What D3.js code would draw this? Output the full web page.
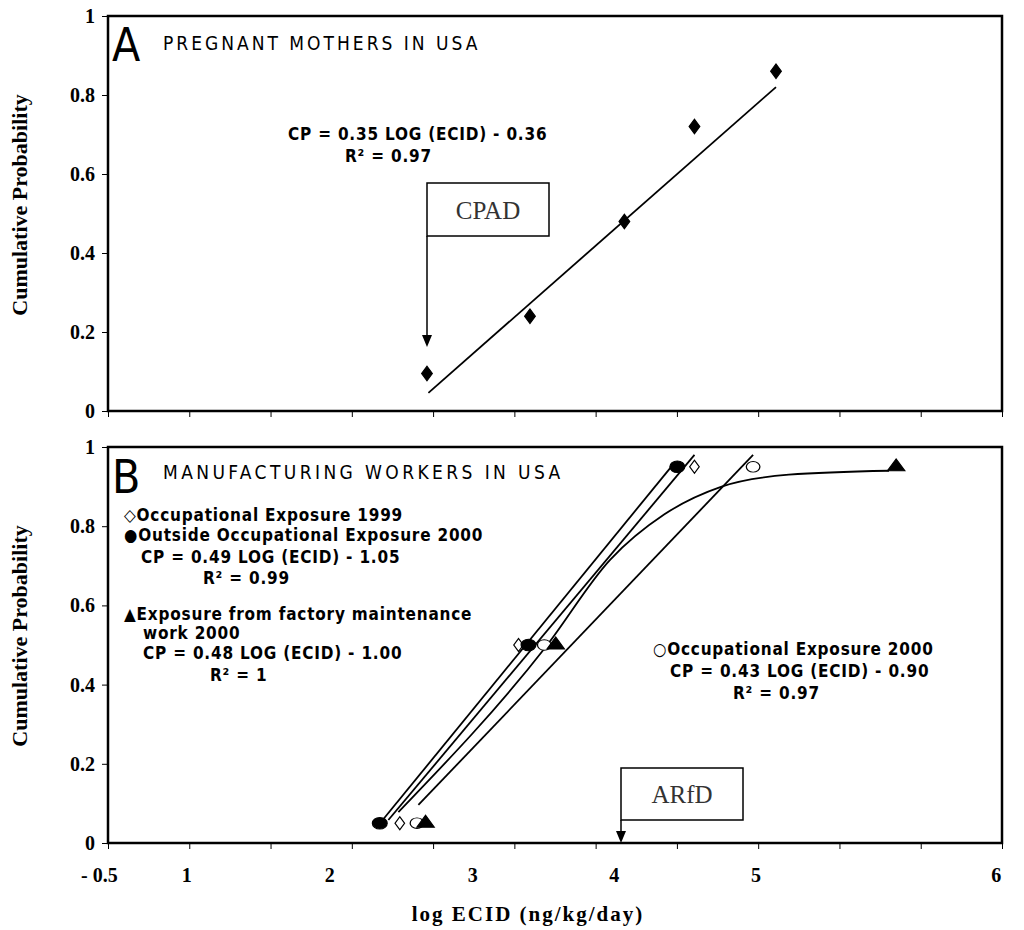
<!DOCTYPE html>
<html><head><meta charset="utf-8">
<script src="https://cdnjs.cloudflare.com/ajax/libs/d3/7.8.5/d3.min.js"></script>
<style>body{margin:0;background:#fff}</style>
</head><body>
<svg id="chart" width="1024" height="930"></svg>
<script>
// panel A: pregnant mothers
var aX = [2.68, 3.40, 4.06, 4.55, 5.12];
var aY = [0.095, 0.24, 0.48, 0.72, 0.86];
var aFitX = [2.69, 5.12], aFitY = [0.046, 0.82];

// panel B: manufacturing workers
var filledX = [2.35, 3.39, 4.43], filledY = [0.05, 0.5, 0.95];
var diamondX = [2.49, 3.32, 4.55], diamondY = [0.05, 0.5, 0.95];
var openX = [2.61, 3.50, 4.96], openY = [0.05, 0.5, 0.95];
var triX = [2.67, 3.58, 5.96], triY = [0.05, 0.5, 0.95];
var filledFitX = [2.37, 4.41], filledFitY = [0.058, 0.96];
var diamondFitX = [2.41, 4.55], diamondFitY = [0.058, 0.98];
var openFitX = [2.62, 4.96], openFitY = [0.096, 0.98];
var triCurveX = [2.48, 3.51, 3.96, 4.34, 4.74, 5.21, 5.91];
var triCurveY = [0.078, 0.495, 0.715, 0.83, 0.90, 0.93, 0.94];

var yTicks = [0, 0.2, 0.4, 0.6, 0.8, 1];
var yTickText = ["0", "0.2", "0.4", "0.6", "0.8", "1"];
var xLabelPos = [0.39, 1, 2, 3, 3.99, 4.98, 6.66];
var xLabelText = ["- 0.5", "1", "2", "3", "4", "5", "6"];

var svg = d3.select("#chart");
var left = 108, right = 1002;
var x = d3.scaleLinear().domain([0.45, 6.7]).range([left, right]);
var xTickVals = d3.range(12).map(function(i) { return 0.45 + i * 6.25 / 11; });

var serif = "'Liberation Serif', 'Times New Roman', serif";
var narrow = "'DejaVu Sans Condensed', 'Liberation Sans Narrow', Arial, sans-serif";

function panel(top, bottom) {
    var y = d3.scaleLinear().domain([0, 1]).range([bottom, top]);
    var g = svg.append("g");
    g.append("rect").attr("x", left).attr("y", top).attr("width", right - left).attr("height", bottom - top)
        .attr("fill", "none").attr("stroke", "#000").attr("stroke-width", 2.5);
    var ya = g.append("g").attr("transform", "translate(" + left + ",0)")
        .call(d3.axisLeft(y).tickValues(yTicks).tickFormat(function(d, i) { return yTickText[i]; }).tickSize(6).tickSizeOuter(0));
    ya.select(".domain").remove();
    ya.selectAll("text").attr("font-family", serif).attr("font-weight", "bold").attr("font-size", 20).attr("fill", "#000").attr("dx", -4);
    var xa = g.append("g").attr("transform", "translate(0," + bottom + ")")
        .call(d3.axisBottom(x).tickValues(xTickVals).tickFormat("").tickSize(6).tickSizeOuter(0));
    xa.select(".domain").remove();
    return {g: g, y: y};
}

function line(g, y, xs, ys, curve) {
    g.append("path").datum(xs.map(function(v, i) { return [v, ys[i]]; }))
        .attr("d", d3.line().x(function(d) { return x(d[0]); }).y(function(d) { return y(d[1]); }).curve(curve || d3.curveLinear))
        .attr("fill", "none").attr("stroke", "#000").attr("stroke-width", 1.8);
}

function marks(g, y, xs, ys, type, filled, size) {
    g.selectAll(null).data(xs).enter().append("path")
        .attr("transform", function(d, i) { return "translate(" + x(d) + "," + y(ys[i]) + ") scale(1.15,0.9)"; })
        .attr("d", d3.symbol().type(type).size(size))
        .attr("fill", filled ? "#000" : "#fff").attr("stroke", "#000").attr("stroke-width", 1.1);
}

function txt(g, px, py, s, size, opts) {
    opts = opts || {};
    return g.append("text").attr("x", px).attr("y", py).text(s)
        .attr("font-family", opts.family || narrow).attr("font-size", size)
        .attr("font-weight", opts.weight || "bold").attr("letter-spacing", opts.ls == null ? 0.8 : opts.ls)
        .attr("text-anchor", opts.anchor || "start").attr("fill", "#000");
}

function callout(g, bx, by, bw, bh, label, tipY) {
    g.append("rect").attr("x", bx).attr("y", by).attr("width", bw).attr("height", bh)
        .attr("fill", "#fff").attr("stroke", "#000").attr("stroke-width", 1.5);
    txt(g, bx + bw / 2, by + bh / 2 + 9, label, 25, {family: serif, weight: "normal", anchor: "middle", ls: 0}).attr("fill", "#333");
    g.append("line").attr("x1", bx).attr("x2", bx).attr("y1", by + bh).attr("y2", tipY - 10)
        .attr("stroke", "#000").attr("stroke-width", 1.5);
    g.append("path").attr("d", "M" + (bx - 5) + "," + (tipY - 12) + "L" + (bx + 5) + "," + (tipY - 12) + "L" + bx + "," + tipY + "Z");
}

// ---- Panel A
var A = panel(16, 411);
line(A.g, A.y, aFitX, aFitY);
marks(A.g, A.y, aX, aY, d3.symbolDiamond, true, 75);
txt(A.g, 112, 61, "A", 46, {weight: "normal", family: "'DejaVu Sans Condensed', sans-serif", ls: 0});
txt(A.g, 163, 50, "PREGNANT MOTHERS IN USA", 19, {weight: "normal", ls: 3});
txt(A.g, 288, 140, "CP = 0.35 LOG (ECID) - 0.36", 17);
txt(A.g, 345, 162, "R\u00b2 = 0.97", 17);
callout(A.g, 427, 183, 122, 53, "CPAD", 347);

// ---- Panel B
var B = panel(447, 843);
line(B.g, B.y, filledFitX, filledFitY);
line(B.g, B.y, diamondFitX, diamondFitY);
line(B.g, B.y, openFitX, openFitY);
line(B.g, B.y, triCurveX, triCurveY, d3.curveMonotoneX);
marks(B.g, B.y, diamondX, diamondY, d3.symbolDiamond, false, 60);
marks(B.g, B.y, openX, openY, d3.symbolCircle, false, 110);
marks(B.g, B.y, triX, triY, d3.symbolTriangle, true, 100);
marks(B.g, B.y, filledX, filledY, d3.symbolCircle, true, 130);
callout(B.g, 621, 768, 122, 52, "ARfD", 843);
txt(B.g, 112, 493, "B", 46, {weight: "normal", family: "'DejaVu Sans Condensed', sans-serif", ls: 0});
txt(B.g, 163, 479, "MANUFACTURING WORKERS IN USA", 19, {weight: "normal", ls: 3.4});
txt(B.g, 124, 521, "\u25c7Occupational Exposure 1999", 17);
txt(B.g, 124, 541, "\u25cfOutside Occupational Exposure 2000", 17);
txt(B.g, 141, 563, "CP = 0.49 LOG (ECID) - 1.05", 17);
txt(B.g, 203, 584, "R\u00b2 = 0.99", 17);
txt(B.g, 124, 620, "\u25b2Exposure from factory maintenance", 17);
txt(B.g, 143, 639, "work 2000", 17);
txt(B.g, 143, 659, "CP = 0.48 LOG (ECID) - 1.00", 17);
txt(B.g, 210, 681, "R\u00b2 = 1", 17);
txt(B.g, 653, 655, "\u25cbOccupational Exposure 2000", 17);
txt(B.g, 670, 677, "CP = 0.43 LOG (ECID) - 0.90", 17);
txt(B.g, 733, 699, "R\u00b2 = 0.97", 17);

// x labels
svg.selectAll(null).data(xLabelPos).enter().append("text")
    .attr("x", function(d) { return x(d); }).attr("y", 882)
    .text(function(d, i) { return xLabelText[i]; })
    .attr("text-anchor", "middle").attr("font-family", serif).attr("font-weight", "bold").attr("font-size", 20);
txt(svg, 528, 921, "log ECID (ng/kg/day)", 21, {family: serif, anchor: "middle", ls: 2});
txt(svg, 0, 0, "Cumulative Probability", 22, {family: serif, anchor: "middle", ls: 0})
    .attr("transform", "translate(27,205) rotate(-90)");
txt(svg, 0, 0, "Cumulative Probability", 22, {family: serif, anchor: "middle", ls: 0})
    .attr("transform", "translate(27,636) rotate(-90)");
</script>
</body></html>
